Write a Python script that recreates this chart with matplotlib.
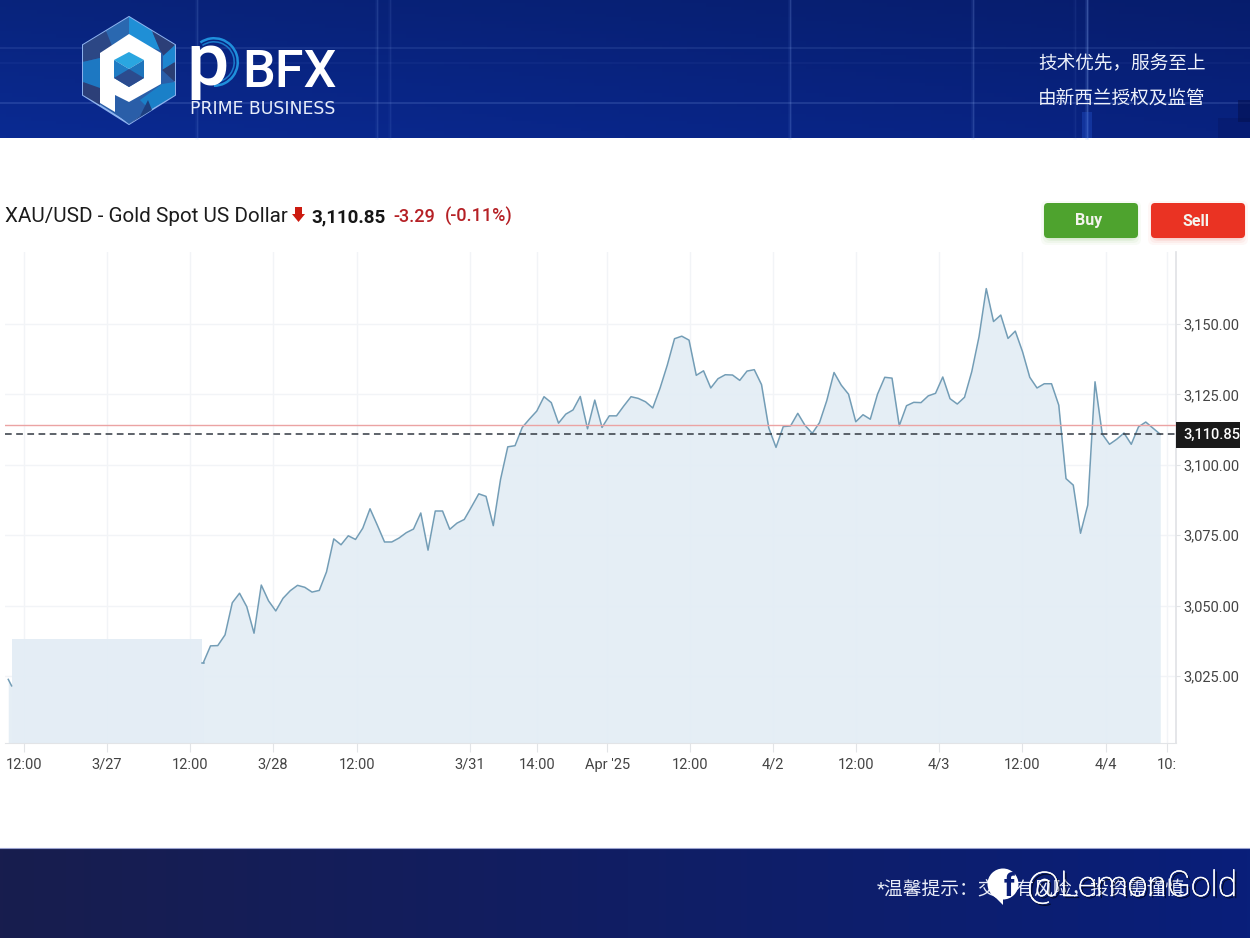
import numpy as np
import matplotlib
matplotlib.use('Agg')
import matplotlib.pyplot as plt
import matplotlib.patheffects as pe
from matplotlib.patches import Polygon, Rectangle, FancyBboxPatch, Circle, Wedge

plt.rcParams['font.family'] = ['Roboto', 'Noto Sans CJK SC', 'DejaVu Sans']

# hourly closes
prices = [3029.7, 3035.7, 3035.8, 3039.6, 3051.0, 3054.4, 3049.6, 3040.2, 3057.3, 3051.7,
          3048.1, 3052.6, 3055.3, 3057.2, 3056.5, 3054.8, 3055.4, 3062.0, 3073.7, 3071.6,
          3074.8, 3073.5, 3077.5, 3084.4, 3078.6, 3072.6, 3072.6, 3074.0, 3075.9, 3077.2,
          3082.9, 3069.7, 3083.6, 3083.6, 3077.1, 3079.3, 3080.6, 3085.1, 3089.7, 3088.8,
          3078.4, 3094.8, 3106.4, 3106.8, 3113.3, 3116.3, 3119.1, 3124.2, 3122.1, 3114.8,
          3118.0, 3119.5, 3124.3, 3112.8, 3123.0, 3113.3, 3117.4, 3117.4, 3120.9, 3124.2,
          3123.6, 3122.4, 3120.2, 3127.2, 3135.4, 3144.8, 3145.7, 3144.3, 3131.8, 3133.4,
          3127.3, 3130.6, 3132.0, 3131.9, 3130.0, 3133.3, 3133.8, 3128.5, 3113.1, 3106.2,
          3113.6, 3113.8, 3118.3, 3114.0, 3111.2, 3115.0, 3122.8, 3132.8, 3128.3, 3125.1,
          3115.3, 3117.8, 3116.2, 3125.1, 3131.1, 3130.8, 3113.9, 3121.0, 3122.2, 3122.1,
          3124.5, 3125.4, 3131.2, 3123.5, 3121.6, 3124.0, 3133.1, 3145.5, 3162.6, 3150.9,
          3153.2, 3144.9, 3147.5, 3140.2, 3131.1, 3127.3, 3128.8, 3128.8, 3121.2, 3095.1,
          3092.8, 3075.7, 3085.7, 3129.5, 3110.9, 3107.3, 3109.1, 3111.3, 3107.3, 3113.5,
          3115.2, 3113.0, 3110.85]
# the bit of line left of the covered part, and the flat cover itself
stub_x = [-26.9, -26.44]
stub_prices = [3023.8, 3021.5]
cover_x = [-26.44, -0.2, -0.2, 0.15]
cover_level = [3038.1, 3038.1, 3029.7, 3029.7]

last_price = 3110.85
prev_close = 3114.14
y_ticks = [3025, 3050, 3075, 3100, 3125, 3150]
x_ticks = [-24.7, -13.3, -1.8, 9.6, 21.2, 36.8, 46.0, 55.7, 67.1, 78.6, 90.0, 101.5, 112.9, 124.5, 132.9]
x_labels = ['12:00', '3/27', '12:00', '3/28', '12:00', '3/31', '14:00', "Apr '25", '12:00',
            '4/2', '12:00', '4/3', '12:00', '4/4', '10:']

W, H = 1250, 938
fig = plt.figure(figsize=(W / 100, H / 100), dpi=100)

# chart, placed in pixels
ax = fig.add_axes([5 / W, (H - 743) / H, 1171 / W, 491 / H])
t = np.arange(len(prices))
ax.grid(True, color='#f2f4f7', lw=1, zorder=0)
ax.set_axisbelow(True)
ax.fill_between(t, prices, 3000, color='#e3edf5', lw=0, alpha=.93, zorder=1)
ax.fill_between(stub_x, stub_prices, 3000, color='#e3edf5', lw=0, alpha=.93, zorder=1)
ax.fill_between(cover_x, cover_level, 3000, color='#e3edf5', lw=0, alpha=.96, zorder=1)
ax.plot(t, prices, color='#739db6', lw=1.1, zorder=3)
ax.plot(cover_x[2:], cover_level[2:], color='#739db6', lw=1.1, zorder=3)
ax.plot(stub_x, stub_prices, color='#739db6', lw=1.1, zorder=3)
ax.axhline(prev_close, color='#eba3a3', lw=1.0, zorder=4)
ax.axhline(last_price, color='#3a4048', lw=1.15, dashes=(4.2, 2.8), zorder=4)
ax.set_xlim(-27.35, 134.17)
ax.set_ylim(3001.2, 3175.6)
ax.set_xticks(x_ticks)
ax.set_xticklabels(x_labels, va='baseline')
ax.yaxis.tick_right()
ax.set_yticks(y_ticks)
ax.set_yticklabels(['{:,.2f}'.format(v) for v in y_ticks])
ax.tick_params(axis='x', length=6.5, width=.8, color='#e2e4e7', labelcolor='#444444', labelsize=10.5, pad=12)
ax.tick_params(axis='y', length=3, width=.8, color='#e2e4e7', labelcolor='#444444', labelsize=10.5, pad=2)
for s in ['top', 'left']:
    ax.spines[s].set_visible(False)
ax.spines['bottom'].set_color('#e2e4e7')
ax.spines['right'].set_color('#e0e2e5')
ax.spines['right'].set_linewidth(1.2)

# everything else goes on a pixel-sized overlay
deco = fig.add_axes([0, 0, 1, 1], facecolor='none')
deco.set_axis_off()


def banner(y0, y1, left, right, top_dark):
    n = 200
    grad = np.zeros((40, n, 3))
    for c in range(3):
        row = np.linspace(left[c], right[c], n)
        grad[:, :, c] = row
    shade = np.linspace(top_dark, 1, 40)[:, None, None]
    deco.imshow(np.clip(grad * shade, 0, 255).astype(np.uint8), extent=(0, W, y1, y0), aspect='auto', zorder=0)


banner(0, 138, (10, 42, 146), (8, 34, 128), .85)
banner(849, 938, (24, 29, 78), (9, 31, 122), 1)
deco.plot([0, W], [848.5, 848.5], color='#9aa2cf', lw=.8, zorder=1)

# glow lines in the header
for x, a in [(197, .12), (377, .12), (390, .08), (973, .16), (1087, .25), (1075, .06), (790, .16)]:
    deco.plot([x, x], [0, 138], color='#6f9cf0', lw=2.6, alpha=a * .5, zorder=1)
    deco.plot([x, x], [0, 138], color='#9fc0ff', lw=1.0, alpha=a, zorder=1)
for y, a in [(48, .12), (103, .18), (63, .05)]:
    deco.plot([0, W], [y, y], color='#9fc0ff', lw=1.2, alpha=a, zorder=1)
deco.add_patch(Rectangle((1082, 112), 10, 26, color='#2a5fe0', alpha=.3, lw=0, zorder=1))
deco.add_patch(Rectangle((1218, 118), 32, 20, color='#06186a', alpha=.55, lw=0, zorder=1))
deco.add_patch(Rectangle((1238, 100), 12, 22, color='#04104f', alpha=.55, lw=0, zorder=1))

# logo
hex_pts = [(129, 17), (175, 45), (175, 95), (129, 124), (83, 95), (83, 45)]
deco.add_patch(Polygon(hex_pts, closed=True, fc='#2a5ea8', ec='#8fb4f0', lw=1.4, zorder=2))
facets = [
    ([(129, 17), (129, 42), (160, 50), (152, 31)], '#1f8fd6'),
    ([(129, 17), (106, 31), (112, 46), (129, 36)], '#2a68b0'),
    ([(152, 31), (175, 45), (165, 58), (160, 50)], '#2c3f78'),
    ([(175, 45), (175, 62), (163, 70), (163, 56)], '#1d86d0'),
    ([(175, 62), (175, 82), (162, 70)], '#2b3f74'),
    ([(175, 82), (175, 95), (150, 110), (140, 100), (162, 84)], '#1a80c8'),
    ([(106, 31), (83, 45), (83, 62), (100, 58), (112, 46)], '#2c4785'),
    ([(83, 62), (83, 82), (100, 90), (100, 58)], '#1d78c2'),
    ([(83, 82), (83, 95), (100, 105), (100, 88)], '#2c3f78'),
    ([(115, 100), (115, 113), (129, 124), (140, 116), (130, 100)], '#2a5ea8'),
    ([(140, 116), (129, 124), (152, 110), (148, 100)], '#1d3f80'),
]
for pts, col in facets:
    deco.add_patch(Polygon(pts, closed=True, fc=col, ec='none', zorder=2))
p_shape = [(129, 34), (161, 53), (161, 84), (129, 102), (115, 95), (115, 112), (100, 103), (100, 53)]
deco.add_patch(Polygon(p_shape, closed=True, fc='white', ec='none', zorder=3))
inner = [
    ([(129, 52), (144, 60), (129, 69), (114, 60)], '#2aa6e0'),
    ([(114, 60), (129, 69), (129, 87), (114, 78)], '#1f7cc4'),
    ([(144, 60), (144, 78), (129, 87), (129, 69)], '#1e74bb'),
    ([(114, 78), (129, 69), (144, 78), (129, 87)], '#2b4b8e'),
]
for pts, col in inner:
    deco.add_patch(Polygon(pts, closed=True, fc=col, ec='none', zorder=4))

# wordmark
for r, w, a in [(25, 2.5, 1), (21, 1.6, .8)]:
    deco.add_patch(Wedge((214, 62), r, -125, 90, width=w, fc='#1f8fdc', ec='none', alpha=a, zorder=3))
deco.text(186, 85, 'p', color='white', fontsize=54, weight='medium', ha='left', va='baseline', zorder=4)
deco.text(242, 87, 'BFX', color='white', fontsize=37.5, weight='medium', ha='left', va='baseline', zorder=4)
deco.text(190.5, 113.5, 'PRIME BUSINESS', color='#e8eefb', fontsize=12.4, family='DejaVu Sans',
          ha='left', va='baseline', zorder=4)

deco.text(1205.5, 63, '技术优先，服务至上', color='#eef2fb', fontsize=13.4, ha='right', va='center', zorder=4)
deco.text(1205.5, 99, '由新西兰授权及监管', color='#eef2fb', fontsize=13.4, ha='right', va='center', zorder=4)

# title row
deco.text(5, 222, 'XAU/USD - Gold Spot US Dollar', color='#1c1c1c', fontsize=14.9, ha='left', va='baseline')
deco.add_patch(Polygon([(295, 207), (302, 207), (302, 214), (305, 214), (298.5, 222), (292, 214), (295, 214)],
                       closed=True, fc='#cc1b10', ec='none'))
deco.text(311, 222, '3,110.85', color='#161616', fontsize=13.5, weight='bold', ha='left', va='baseline')
deco.text(393, 222, '-3.29', color='#b52025', fontsize=13, weight='medium', ha='left', va='baseline')
deco.text(445, 222, '(-0.11%)', color='#b52025', fontsize=13, weight='medium', ha='left', va='baseline')

# buttons
for x0, col, shadow, label in [(1044, '#4ea32e', '#4ea32e', 'Buy'), (1151, '#ea3323', '#ea3323', 'Sell')]:
    for grow, a in [(7, .04), (5, .05), (3, .07), (1.5, .08)]:
        deco.add_patch(FancyBboxPatch((x0 + 4 - grow, 208 - grow), 86 + 2 * grow, 30 + 2 * grow,
                                      boxstyle='round,pad=0,rounding_size=6', fc=shadow, ec='none', alpha=a))
    deco.add_patch(FancyBboxPatch((x0, 203), 94, 35, boxstyle='round,pad=0,rounding_size=4', fc=col, ec='none'))
    deco.text(x0 + 45, 221, label, color='#f4f4ee', fontsize=11.5, weight='bold', ha='center', va='center')

# last price box
deco.add_patch(Rectangle((1176, 422), 64, 26, fc='#1a1a1a', ec='none', zorder=5))
deco.text(1183, 435, '{:,.2f}'.format(last_price), color='white', fontsize=10.5, weight='medium',
          ha='left', va='center', zorder=6)

# footer and watermark
deco.text(877, 890, '*温馨提示：交易有风险，投资需谨慎', color='#e9edf8', fontsize=13.5, ha='left', va='center', zorder=4)
shadow_fx = [pe.SimplePatchShadow(offset=(1.5, -1.5), shadow_rgbFace='#000000', alpha=.7),
             pe.Stroke(linewidth=.4, foreground='white'), pe.Normal()]
deco.add_patch(Circle((1003, 884), 15.5, fc='white', ec='none', zorder=5))
deco.add_patch(Polygon([(991, 893), (1003, 897), (1003, 905)], closed=True, fc='white', ec='none', zorder=5))
deco.text(1004, 887, 'f', color='#0b1f78', fontsize=22, weight='bold', ha='left', va='center', zorder=6)
deco.text(1027, 886, '@LemonGold', color='white', fontsize=25.5, weight='light', ha='left', va='center', zorder=6,
          path_effects=shadow_fx)

deco.set_xlim(0, W)
deco.set_ylim(H, 0)

fig.savefig('out.png', dpi=100)
